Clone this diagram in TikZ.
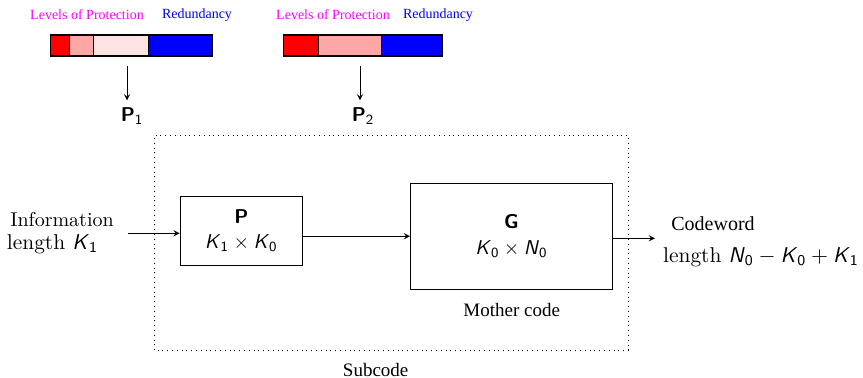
\documentclass[tikz,border=0pt]{standalone}
\usepackage{amsmath,amssymb}
\usepackage{fontspec}
\newfontfamily\tms{Liberation Serif}
\usepackage{xcolor}
\usepackage{tikz}
\usetikzlibrary{arrows, positioning}

\definecolor{lvlhigh}{RGB}{255,0,0}
\definecolor{lvlmid}{RGB}{255,166,166}
\definecolor{lvllow}{RGB}{255,226,226}
\definecolor{redund}{RGB}{0,0,255}
\definecolor{lvltext}{RGB}{255,0,255}

\newcommand{\sk}[2]{\textsf{\textit{#1}}_{\textsf{#2}}}
\newcommand{\bmat}[1]{\textsf{\textbf{#1}}}

\begin{document}
\begin{tikzpicture}[
    x=0.5pt, y=0.5pt,
    block/.style={rectangle, draw, semithick, align=center, inner sep=0pt},
    seg/.style={draw, semithick},
    lvl/.style={font=\fontsize{7}{8}\selectfont\tms, text=lvltext, inner sep=0pt},
    red/.style={font=\fontsize{7}{8}\selectfont\tms, text=redund, inner sep=0pt},
    lbl/.style={font=\fontsize{9.5}{11}\selectfont\tms, inner sep=0pt},
    lenlbl/.style={font=\fontsize{10.7}{12}\selectfont, inner sep=0pt},
    arrow/.style={->,>=stealth}
]
\useasboundingbox (0,0) rectangle (863,378);

% protection profiles
\filldraw[seg, fill=lvlhigh] (50.7,322) rectangle (69.3,343);
\filldraw[seg, fill=lvlmid]  (69.3,322) rectangle (93.3,343);
\filldraw[seg, fill=lvllow]  (93.3,322) rectangle (148.7,343);
\filldraw[seg, fill=redund]  (148.7,322) rectangle (212.3,343);

\filldraw[seg, fill=lvlhigh] (283.7,322) rectangle (318.7,343);
\filldraw[seg, fill=lvlmid]  (318.7,322) rectangle (381.7,343);
\filldraw[seg, fill=redund]  (381.7,322) rectangle (442.7,343);

\node[lvl] (lvl1) at (87,363) {Levels of Protection};
\node[red] (red1) at (197,363) {Redundancy};
\node[lvl] (lvl2) at (333,363) {Levels of Protection};
\node[red] (red2) at (438,363) {Redundancy};

\coordinate (bar1) at (127,311.5);
\coordinate (bar2) at (360,311.5);
\node (p1) at (132,262) {$\bmat{P}_{\textsf{1}}$};
\node (p2) at (363,262) {$\bmat{P}_{\textsf{2}}$};
\draw [arrow] (bar1) -- (bar1 |- p1.north);
\draw [arrow] (bar2) -- (bar2 |- p2.north);

% subcode
\draw[dotted] (154,28) rectangle (628.3,242.3);
\node[lbl] (subcode) at (375.7,8) {Subcode};

\node[block, minimum width=61pt, minimum height=34.3pt] (pmat) at (241.3,147)
    {\bmat{P}\\[0.5pt] $\sk{K}{1}\times\sk{K}{0}$};
\node[block, minimum width=100.8pt, minimum height=53pt] (gmat) at (511.5,141.7)
    {\bmat{G}\\[1pt] $\sk{K}{0}\times\sk{N}{0}$};
\node[lbl] (mother) at (511.7,68) {Mother code};

% input / output
\node[inner sep=0pt] (info) at (62,158) {Information};
\node[lenlbl] (infolen) at (52.5,134) {length $\sk{K}{1}$};
\coordinate (in) at (128,144.7);
\draw [arrow] (in) -- (in -| pmat.west);
\draw [arrow] (pmat.east |- gmat.west) -- (gmat.west);

\node[lbl, font=\fontsize{10}{12}\selectfont\tms] (cw) at (713,154) {Codeword};
\node[lenlbl] (cwlen) at (761,121) {length $\sk{N}{0}-\sk{K}{0}+\sk{K}{1}$};
\coordinate (out) at (655,139.7);
\draw [arrow] (gmat.east |- out) -- (out);

\end{tikzpicture}
\end{document}
